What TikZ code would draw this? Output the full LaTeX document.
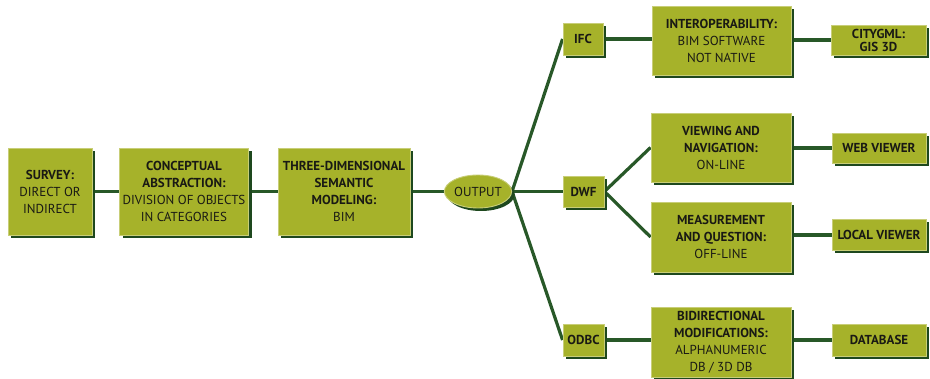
\documentclass[tikz,border=0pt]{standalone}
\usepackage{fontspec}
\setmainfont{PT Sans}
\usetikzlibrary{shadows,backgrounds,shapes.geometric}
\definecolor{boxfill}{RGB}{166,178,42}
\definecolor{boxedge}{RGB}{200,206,120}
\definecolor{shadowgreen}{RGB}{30,72,30}
\definecolor{linkgreen}{RGB}{40,88,40}
\definecolor{txt}{RGB}{25,25,20}
\tikzset{
  box/.style={draw=boxedge, line width=0.9pt, fill=boxfill, align=center, inner sep=0pt,
    font=\fontsize{13}{17}\selectfont, text=txt,
    drop shadow={shadow xshift=3pt, shadow yshift=-3pt, fill=shadowgreen, opacity=1}},
  oval/.style={box, ellipse},
  link/.style={draw=linkgreen, line width=3.2pt},
}
\newcommand{\hd}[1]{\textbf{#1}}
\begin{document}
\begin{tikzpicture}[x=1pt,y=-1pt]
\useasboundingbox (0,0) rectangle (930,379);
\node[box, minimum width=84pt, minimum height=87pt] (survey) at (50,191.5) {\hd{SURVEY:}\\DIRECT OR\\INDIRECT};
\node[box, minimum width=129pt, minimum height=87pt] (concept) at (184,191.5) {\hd{CONCEPTUAL}\\\hd{ABSTRACTION:}\\DIVISION OF OBJECTS\\IN CATEGORIES};
\node[box, minimum width=132pt, minimum height=87pt] (threed) at (344,191.5) {\hd{THREE-DIMENSIONAL}\\\hd{SEMANTIC}\\\hd{MODELING:}\\BIM};
\node[oval, minimum width=63pt, minimum height=33pt] (output) at (478,191.5) {OUTPUT};
\node[box, minimum width=40pt, minimum height=32pt] (ifc) at (583,39) {\hd{IFC}};
\node[box, minimum width=139pt, minimum height=69pt] (interop) at (721.5,41) {\hd{INTEROPERABILITY:}\\BIM SOFTWARE\\NOT NATIVE};
\node[box, minimum width=95pt, minimum height=30pt] (city) at (878.5,40) {\hd{CITYGML:}\\[-4pt]\hd{GIS 3D}};
\node[box, minimum width=41pt, minimum height=31pt] (dwf) at (583.5,191.5) {\hd{DWF}};
\node[box, minimum width=140pt, minimum height=69pt] (view) at (721,147.5) {\hd{VIEWING AND}\\\hd{NAVIGATION:}\\ON-LINE};
\node[box, minimum width=94pt, minimum height=30pt] (web) at (879,148) {\hd{WEB VIEWER}};
\node[box, minimum width=140pt, minimum height=70pt] (meas) at (721,237) {\hd{MEASUREMENT}\\\hd{AND QUESTION:}\\OFF-LINE};
\node[box, minimum width=94pt, minimum height=31pt] (local) at (879,235) {\hd{LOCAL VIEWER}};
\node[box, minimum width=41pt, minimum height=32pt] (odbc) at (583.5,340) {\hd{ODBC}};
\node[box, minimum width=140pt, minimum height=70pt] (bidir) at (721,342) {\hd{BIDIRECTIONAL}\\\hd{MODIFICATIONS:}\\ALPHANUMERIC\\DB / 3D DB};
\node[box, minimum width=94pt, minimum height=32pt] (db) at (879,340) {\hd{DATABASE}};
\begin{pgfonlayer}{background}
\draw[link] (survey.east) -- (concept.west);
\draw[link] (concept.east) -- (threed.west);
\draw[link] (threed.east |- output) -- (output.west);
\draw[link] (output.east) -- (ifc.west);
\draw[link] (output.east) -- (dwf.west);
\draw[link] (output.east) -- (odbc.west);
\draw[link] (ifc.east) -- (ifc.east -| interop.west);
\draw[link] (interop.east |- city) -- (city.west);
\draw[link] (dwf.east) -- (view.west);
\draw[link] (dwf.east) -- (meas.west);
\draw[link] (view.east |- web) -- (web.west);
\draw[link] (meas.east |- local) -- (local.west);
\draw[link] (odbc.east) -- (odbc.east -| bidir.west);
\draw[link] (bidir.east |- db) -- (db.west);
\end{pgfonlayer}
\end{tikzpicture}
\end{document}
